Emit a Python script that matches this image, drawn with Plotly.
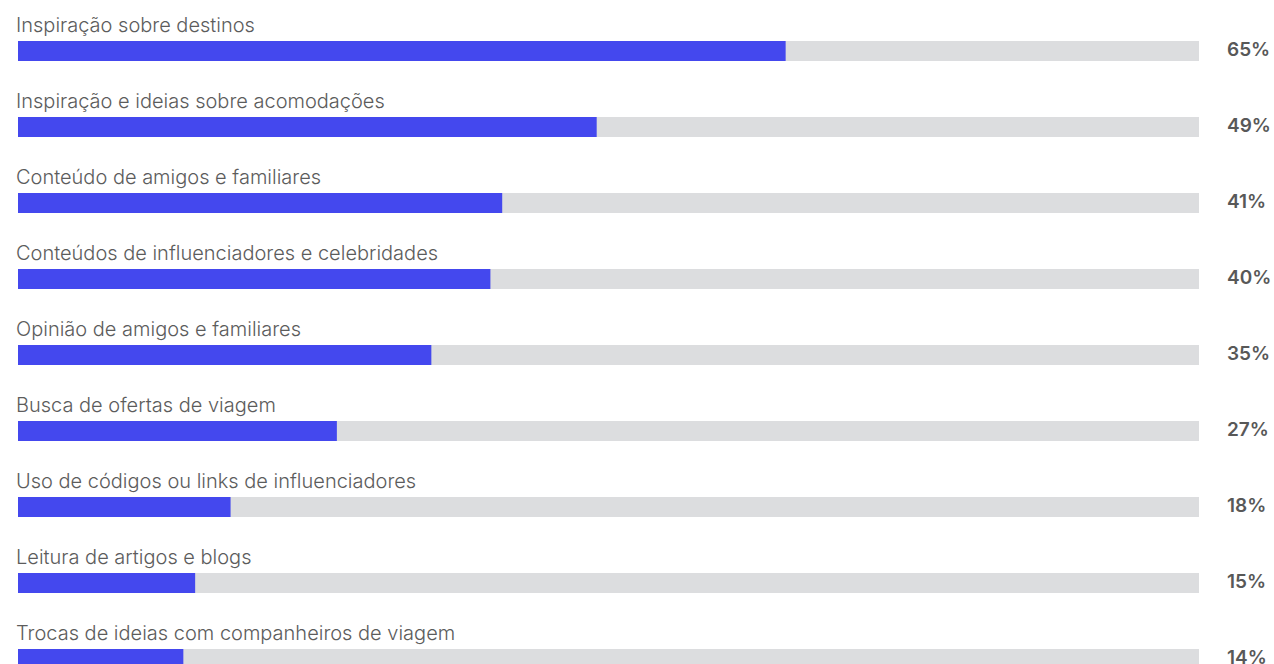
import plotly.graph_objects as go

categories = [
    "Inspiração sobre destinos",
    "Inspiração e ideias sobre acomodações",
    "Conteúdo de amigos e familiares",
    "Conteúdos de influenciadores e celebridades",
    "Opinião de amigos e familiares",
    "Busca de ofertas de viagem",
    "Uso de códigos ou links de influenciadores",
    "Leitura de artigos e blogs",
    "Trocas de ideias com companheiros de viagem",
]
values = [65, 49, 41, 40, 35, 27, 18, 15, 14]
track_max = 100

W, H = 1274, 664
px_per_unit = 11.81        # horizontal scale
x_left_px = 18             # where 0% sits
row_gap_px = 76
first_row_px = 51
bar_px = 20

x0 = -x_left_px / px_per_unit
x1 = (W - x_left_px) / px_per_unit
y_top = -first_row_px / row_gap_px
y_bot = (H - first_row_px) / row_gap_px

rows = list(range(len(categories)))
bar_w = bar_px / row_gap_px

fig = go.Figure()
fig.add_trace(go.Bar(
    x=[track_max] * len(rows), y=rows, orientation="h", width=bar_w,
    marker=dict(color="#DCDDDF", line=dict(width=0)), hoverinfo="skip",
))
fig.add_trace(go.Bar(
    x=values, y=rows, orientation="h", width=bar_w,
    marker=dict(color="#4448EE", line=dict(width=0)),
    hovertemplate="%{x}%<extra></extra>",
))

font_family = "Inter, 'Open Sans', sans-serif"
for i, (cat, v) in enumerate(zip(categories, values)):
    fig.add_annotation(
        x=0, y=i, text=cat, showarrow=False, xanchor="left", yanchor="middle",
        xshift=-4, yshift=26,
        font=dict(family=font_family, size=20, color="#5c5c5c", weight=300),
    )
    fig.add_annotation(
        x=track_max, y=i, text=f"{v}%", showarrow=False, xanchor="left",
        yanchor="middle", xshift=26, yshift=2,
        font=dict(family=font_family, size=19, color="#585858", weight=600),
    )

fig.update_layout(
    width=W, height=H, margin=dict(l=0, r=0, t=0, b=0),
    paper_bgcolor="white", plot_bgcolor="white",
    barmode="overlay", showlegend=False,
    xaxis=dict(range=[x0, x1], visible=False, fixedrange=True),
    yaxis=dict(range=[y_bot, y_top], visible=False, fixedrange=True),
)

fig.write_html("out.html")
